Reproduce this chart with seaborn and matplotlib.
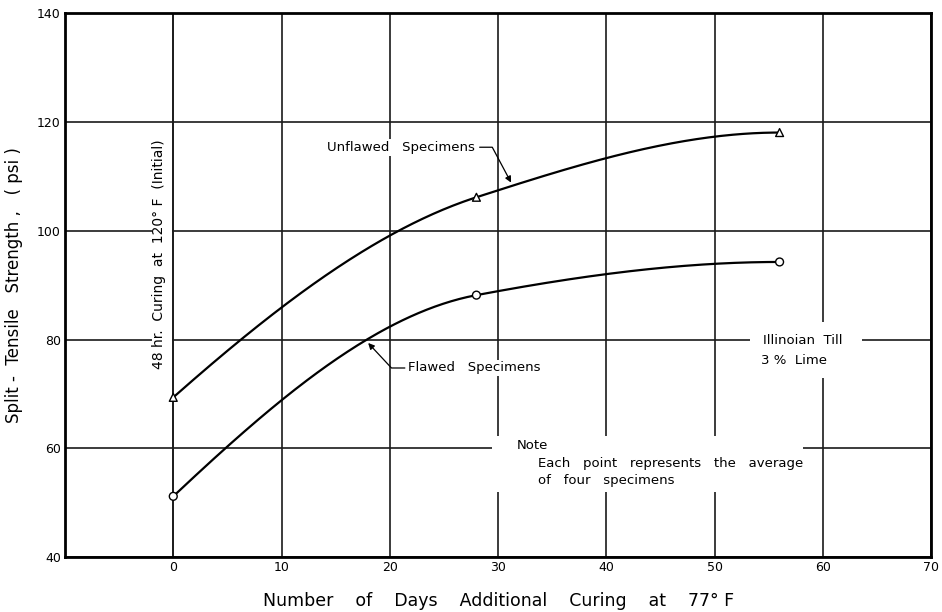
import numpy as np
import pandas as pd
import matplotlib
matplotlib.use("Agg")
import matplotlib.pyplot as plt
from matplotlib.patches import Rectangle
import seaborn as sns

# Split-tensile strength vs. additional curing days (Illinoian Till, 3% lime)
days = [0, 28, 56]
unflawed = [69.4, 106.2, 118.1]
flawed = [51.2, 88.2, 94.3]

x_ticks = [0, 10, 20, 30, 40, 50, 60, 70]
y_ticks = [40, 60, 80, 100, 120, 140]


def pchip(x, y, xs):
    """Shape-preserving cubic Hermite curve through the given points."""
    x = np.asarray(x, float)
    y = np.asarray(y, float)
    h = np.diff(x)
    d = np.diff(y) / h
    n = len(x)
    m = np.zeros(n)
    for k in range(1, n - 1):
        if d[k - 1] * d[k] > 0:
            w1 = 2 * h[k] + h[k - 1]
            w2 = h[k] + 2 * h[k - 1]
            m[k] = (w1 + w2) / (w1 / d[k - 1] + w2 / d[k])

    def end_slope(h0, h1, d0, d1):
        s = ((2 * h0 + h1) * d0 - h0 * d1) / (h0 + h1)
        if np.sign(s) != np.sign(d0):
            return 0.0
        if np.sign(d0) != np.sign(d1) and abs(s) > abs(3 * d0):
            return 3 * d0
        return s

    m[0] = end_slope(h[0], h[1], d[0], d[1])
    m[-1] = end_slope(h[-1], h[-2], d[-1], d[-2])
    xs = np.asarray(xs, float)
    idx = np.clip(np.searchsorted(x, xs) - 1, 0, n - 2)
    t = (xs - x[idx]) / h[idx]
    h00 = 2 * t**3 - 3 * t**2 + 1
    h10 = t**3 - 2 * t**2 + t
    h01 = -2 * t**3 + 3 * t**2
    h11 = t**3 - t**2
    return (h00 * y[idx] + h10 * h[idx] * m[idx]
            + h01 * y[idx + 1] + h11 * h[idx] * m[idx + 1])


sns.set_theme(style="white")
plt.rcParams["font.family"] = ["DejaVu Sans"]
plt.rcParams["text.color"] = "black"
plt.rcParams["axes.labelcolor"] = "black"
plt.rcParams["xtick.color"] = "black"
plt.rcParams["ytick.color"] = "black"

fig = plt.figure(figsize=(9.42, 6.12), dpi=100)
ax = fig.add_axes([0.069, 0.0895, 0.9195, 0.8885])

# smooth curves through the measured points
xs = np.linspace(days[0], days[-1], 300)
curves = pd.concat([
    pd.DataFrame({"days": xs, "strength": pchip(days, unflawed, xs), "series": "Unflawed"}),
    pd.DataFrame({"days": xs, "strength": pchip(days, flawed, xs), "series": "Flawed"}),
])
points = pd.concat([
    pd.DataFrame({"days": days, "strength": unflawed, "series": "Unflawed"}),
    pd.DataFrame({"days": days, "strength": flawed, "series": "Flawed"}),
])

sns.lineplot(data=curves, x="days", y="strength", units="series", estimator=None,
             color="black", lw=1.6, ax=ax, zorder=3, legend=False)
sns.scatterplot(data=points, x="days", y="strength", style="series",
                markers={"Unflawed": "^", "Flawed": "o"}, s=32,
                facecolor="white", edgecolor="black", linewidth=1.0,
                ax=ax, zorder=4, legend=False)

ax.set_xlim(-10, 70)
ax.set_ylim(40, 140)
ax.set_xticks(x_ticks)
ax.set_yticks(y_ticks)
ax.set_xticklabels([str(v) for v in x_ticks], fontsize=9)
ax.set_yticklabels([str(v) for v in y_ticks], fontsize=9)
ax.tick_params(axis="x", length=0, pad=3)
ax.tick_params(axis="y", length=0, pad=3)
ax.set_axisbelow(True)
ax.grid(True, color="#1a1a1a", lw=1.2)
for sp in ax.spines.values():
    sp.set_color("black")
    sp.set_linewidth(2.0)

ax.set_xlabel("Number    of    Days    Additional    Curing    at    77° F",
              fontsize=12.5, labelpad=13)
ax.set_ylabel("Split -  Tensile   Strength ,   ( psi )", fontsize=12, labelpad=10)

# vertical label just left of the zero-day line
ax.add_patch(Rectangle((-2.0, 71.0), 1.9, 48.0, fc="white", ec="none", zorder=1))
ax.axvline(0, color="#1a1a1a", lw=1.2, zorder=1.2)
ax.text(-1.35, 95.7, "48 hr.  Curing  at  120° F  (Initial)", rotation=90,
        ha="center", va="center", fontsize=10, zorder=2)

# curve labels with leaders
ax.annotate("Unflawed   Specimens", xy=(31.2, 108.9), xytext=(14.2, 115.4),
            ha="left", va="center", fontsize=9.5, zorder=5,
            bbox=dict(boxstyle="square,pad=0.15", fc="white", ec="none"),
            arrowprops=dict(arrowstyle="-|>", color="black", lw=0.9,
                            mutation_scale=9, shrinkA=2, shrinkB=0,
                            connectionstyle="angle,angleA=0,angleB=-62,rad=0"))
ax.annotate("Flawed   Specimens", xy=(18.0, 79.4), xytext=(21.7, 74.8),
            ha="left", va="center", fontsize=9.5, zorder=5,
            bbox=dict(boxstyle="square,pad=0.15", fc="white", ec="none"),
            arrowprops=dict(arrowstyle="-|>", color="black", lw=0.9,
                            mutation_scale=9, shrinkA=1, shrinkB=0,
                            connectionstyle="angle,angleA=0,angleB=-47,rad=0"))

# material annotation
ax.add_patch(Rectangle((53.3, 72.9), 10.3, 10.3, fc="white", ec="none", zorder=1))
ax.text(54.5, 79.9, "Illinoian  Till", ha="left", va="center", fontsize=9.5, zorder=5)
ax.text(54.3, 76.1, "3 %  Lime", ha="left", va="center", fontsize=9.5, zorder=5)

# note
ax.add_patch(Rectangle((29.4, 52.0), 28.8, 10.3, fc="white", ec="none", zorder=1))
ax.text(31.7, 60.6, "Note", ha="left", va="center", fontsize=9.5, zorder=5)
ax.text(33.7, 57.3, "Each   point   represents   the   average", ha="left", va="center",
        fontsize=9.5, zorder=5)
ax.text(33.7, 54.2, "of   four   specimens", ha="left", va="center", fontsize=9.5, zorder=5)

fig.savefig("out.png", dpi=100, facecolor="white")
